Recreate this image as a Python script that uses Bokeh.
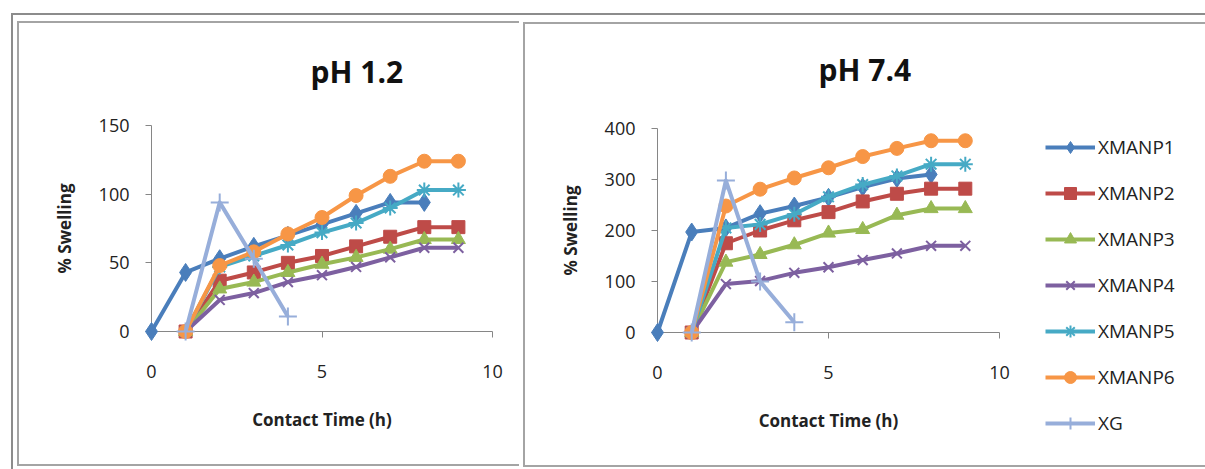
from bokeh.plotting import figure
from bokeh.models import Range1d, FixedTicker, Legend, LegendItem
from bokeh.layouts import row
from bokeh.embed import file_html
from bokeh.resources import INLINE

# ---------------- data ----------------
names = ["XMANP1", "XMANP2", "XMANP3", "XMANP4", "XMANP5", "XMANP6", "XG"]
colors = ["#4A7EBB", "#BE4B48", "#98B954", "#7D60A0", "#46AAC5", "#F79646", "#97AEDA"]
markers = ["diamond", "square", "triangle", "x", "asterisk", "circle", "cross"]
msizes = [18, 13, 14, 14, 15, 14, 18]

time_p1 = [0, 1, 2, 3, 4, 5, 6, 7, 8]
time_std = [1, 2, 3, 4, 5, 6, 7, 8, 9]
time_xg = [1, 2, 3, 4]

# pH 1.2 (% swelling)
ph12_xmanp1 = [0, 43, 53, 62, 70, 78, 86, 94, 94]
ph12_xmanp2 = [0, 37, 43, 50, 55, 62, 69, 76, 76]
ph12_xmanp3 = [0, 31, 36, 43, 49, 54, 60, 67, 67]
ph12_xmanp4 = [0, 23, 28, 36, 41, 47, 54, 61, 61]
ph12_xmanp5 = [0, 47, 55, 63, 72, 79, 90, 103, 103]
ph12_xmanp6 = [0, 48, 58, 71, 83, 99, 113, 124, 124]
ph12_xg = [0, 94, 53, 11]

# pH 7.4 (% swelling)
ph74_xmanp1 = [0, 197, 205, 233, 248, 265, 285, 302, 310]
ph74_xmanp2 = [0, 175, 200, 220, 236, 257, 272, 282, 282]
ph74_xmanp3 = [0, 138, 153, 172, 195, 202, 230, 243, 243]
ph74_xmanp4 = [0, 95, 101, 117, 128, 142, 155, 170, 170]
ph74_xmanp5 = [0, 205, 212, 232, 266, 290, 307, 330, 330]
ph74_xmanp6 = [0, 248, 281, 303, 323, 345, 361, 376, 376]
ph74_xg = [0, 298, 100, 20]

x_ticks = [0, 5, 10]
y_ticks_12 = [0, 50, 100, 150]
y_ticks_74 = [0, 100, 200, 300, 400]

FONT = "Open Sans"
AXIS_COLOR = "#868686"

xs_all = [time_p1, time_std, time_std, time_std, time_std, time_std, time_xg]
ys_12 = [ph12_xmanp1, ph12_xmanp2, ph12_xmanp3, ph12_xmanp4, ph12_xmanp5, ph12_xmanp6, ph12_xg]
ys_74 = [ph74_xmanp1, ph74_xmanp2, ph74_xmanp3, ph74_xmanp4, ph74_xmanp5, ph74_xmanp6, ph74_xg]


def unalign(p):
    """Switch off frame alignment between the plots of the row, if supported."""
    try:
        if "frame_align" in p.properties():
            p.frame_align = False
            return True
    except Exception:
        pass
    return False


def add_series(p, xs_list, ys_list, level):
    rends = []
    for i, (xs, ys) in enumerate(zip(xs_list, ys_list)):
        lr = p.line(xs, ys, line_color=colors[i], line_width=4, line_join="round", level=level)
        mk = markers[i]
        line_only = mk in ("x", "asterisk", "cross")
        sr = p.scatter(xs, ys, marker=mk, size=msizes[i],
                       fill_color=colors[i], line_color=colors[i],
                       line_width=2 if line_only else 1, level=level)
        rends.append((lr, sr))
    return rends


def make_panel(title, xs_list, ys_list, yticks, width, borders, title_offset):
    bl, br, bt, bb = borders
    p = figure(width=width, height=469, output_backend="svg", toolbar_location=None,
               x_range=Range1d(0, 10), y_range=Range1d(yticks[0], yticks[-1]),
               min_border_left=bl, min_border_right=br,
               min_border_top=bt, min_border_bottom=bb,
               background_fill_alpha=0, border_fill_alpha=0)
    p.outline_line_color = None
    p.grid.visible = False

    p.title.text = title
    p.title.align = "left"
    p.title.offset = title_offset
    p.title.text_font = FONT
    p.title.text_font_size = "30px"
    p.title.text_font_style = "bold"
    p.title.text_color = "#111111"

    for ax in (p.xaxis[0], p.yaxis[0]):
        ax.axis_line_color = AXIS_COLOR
        ax.major_tick_line_color = AXIS_COLOR
        ax.minor_tick_line_color = None
        ax.major_tick_in = 0
        ax.major_tick_out = 6
        ax.major_label_text_font = FONT
        ax.major_label_text_font_size = "18px"
        ax.major_label_text_color = "#222222"
        ax.axis_label_text_font = FONT
        ax.axis_label_text_font_size = "17px"
        ax.axis_label_text_font_style = "bold"
        ax.axis_label_text_color = "#222222"

    p.xaxis[0].ticker = FixedTicker(ticks=x_ticks)
    p.xaxis[0].major_label_standoff = 27
    p.xaxis[0].axis_label = "Contact Time (h)"
    p.xaxis[0].axis_label_standoff = 27

    p.yaxis[0].ticker = FixedTicker(ticks=yticks)
    p.yaxis[0].major_label_standoff = 16
    p.yaxis[0].major_label_orientation = "horizontal"
    p.yaxis[0].axis_label = "% Swelling"
    p.yaxis[0].axis_label_standoff = 20

    add_series(p, xs_list, ys_list, "overlay")
    return p


p1 = make_panel("pH 1.2", xs_all, ys_12, y_ticks_12, 520, (151, 28, 125, 138), 159)
p2 = make_panel("pH 7.4", xs_all, ys_74, y_ticks_74, 510, (137, 31, 128, 137), 161)

# legend panel: same series, view window placed away from the data so only the key shows
p3 = figure(width=175, height=469, output_backend="svg", toolbar_location=None,
            title=None, x_axis_location=None, y_axis_location=None,
            x_range=Range1d(-200, -190), y_range=Range1d(-2000, -1900),
            min_border=0, background_fill_alpha=0, border_fill_alpha=0)
p3.outline_line_color = None
p3.grid.visible = False
rends = add_series(p3, xs_all, ys_74, "glyph")

free = unalign(p3)
unalign(p1)
unalign(p2)
p1.title.standoff = 67 if free else 73
p2.title.standoff = 78

legend_kw = dict(orientation="vertical", padding=0, margin=0, spacing=16,
                 glyph_width=50, glyph_height=30, label_height=30, label_standoff=3,
                 border_line_color=None, background_fill_alpha=0,
                 label_text_font=FONT, label_text_font_size="19px", label_text_color="#222222")
items = [LegendItem(label=n, renderers=list(r)) for n, r in zip(names, rends)]
if free:
    legend = Legend(items=items, location=(15, 31), **legend_kw)
    p3.add_layout(legend)
else:
    legend = Legend(items=items, location=(15, -106), **legend_kw)
    p3.add_layout(legend, "left")

# chart frames (decorative borders) drawn as CSS background lines behind the canvases
lines = [
    # (left, top, width, height, colour)
    (11, 13, 1194, 2, "#8c8c8c"),   # outer frame top
    (11, 13, 2, 456, "#8c8c8c"),    # outer frame left
    (17, 21, 502, 2, "#a4a4a4"),    # left chart box top
    (17, 21, 2, 445, "#a4a4a4"),    # left chart box left
    (17, 464, 502, 2, "#a4a4a4"),   # left chart box bottom
    (523, 22, 682, 2, "#a4a4a4"),   # right chart box top
    (523, 22, 2, 445, "#a4a4a4"),   # right chart box left
    (523, 465, 682, 2, "#a4a4a4"),  # right chart box bottom
]
css = {
    "background-color": "white",
    "background-image": ", ".join(f"linear-gradient({c}, {c})" for *_, c in lines),
    "background-size": ", ".join(f"{w}px {h}px" for _, _, w, h, _ in lines),
    "background-position": ", ".join(f"{l}px {t}px" for l, t, _, _, _ in lines),
    "background-repeat": "no-repeat",
}

layout = row(p1, p2, p3, spacing=0, styles=css)
open("out.html", "w").write(file_html(layout, INLINE))
